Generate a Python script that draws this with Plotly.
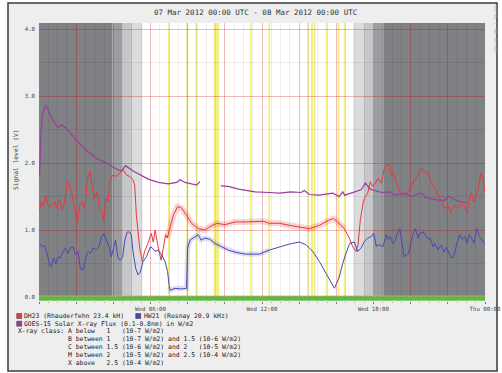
import plotly.graph_objects as go

# ---------------- data (hours since 07 Mar 2012 00:00 UTC, volts) ----------------
red_h = [0.03, 0.12, 0.24, 0.36, 0.48, 0.66, 0.84, 0.97, 1.11, 1.25, 1.38, 1.51, 1.65, 1.79, 1.92,
         2.05, 2.19, 2.33, 2.45, 2.64, 2.76, 2.87, 2.99, 3.12, 3.26, 3.41, 3.48, 3.59, 3.71, 3.84,
         3.98, 4.16, 4.34, 4.52, 4.70, 4.88, 5.06, 5.15, 5.24, 5.33, 5.42, 5.56, 5.68, 5.86, 6.04,
         6.15, 6.25, 6.42, 6.57, 6.69, 6.81, 6.90, 7.05, 7.23, 7.46, 7.67, 7.94, 8.21, 8.57, 8.93,
         9.20, 9.56, 10.01, 10.55, 11.09, 11.63, 12.07, 12.39, 12.93, 13.47, 14.01, 14.55, 15.09,
         15.62, 15.85, 16.07, 16.43, 16.70, 16.88, 17.06, 17.17, 17.29, 17.45, 17.56, 17.69, 17.83,
         17.95, 18.10, 18.24, 18.42, 18.60, 18.78, 18.87, 18.96, 19.08, 19.23, 19.41, 19.59, 19.77,
         19.95, 20.13, 20.40, 20.61, 20.79, 20.90, 21.11, 21.29, 21.48, 21.65, 21.83, 22.01, 22.15,
         22.25, 22.38, 22.50, 22.73, 22.91, 23.05, 23.12, 23.27, 23.42, 23.60, 23.78, 23.90, 23.99]
red_v = [1.30, 1.42, 1.35, 1.52, 1.37, 1.35, 1.42, 1.32, 1.45, 1.30, 1.42, 1.72, 1.65, 1.52, 1.32,
         1.10, 1.37, 1.42, 1.32, 1.80, 1.87, 1.62, 1.47, 1.57, 1.32, 1.25, 1.12, 1.47, 1.42, 1.77,
         1.82, 1.80, 1.85, 1.90, 1.82, 1.80, 1.75, 1.67, 1.22, 0.93, 0.73, 0.53, 0.68, 0.80, 0.95,
         0.82, 1.00, 0.73, 0.55, 0.73, 0.93, 0.88, 1.02, 1.22, 1.35, 1.33, 1.22, 1.10, 1.02, 1.00,
         1.05, 1.10, 1.08, 1.12, 1.12, 1.12, 1.13, 1.10, 1.10, 1.07, 1.05, 1.02, 1.07,
         1.15, 1.17, 1.12, 1.02, 0.88, 0.75, 0.68, 0.78, 1.15, 1.42, 1.50, 1.55, 1.72,
         1.65, 1.70, 1.77, 1.70, 1.94, 1.97, 2.00, 1.82, 1.84, 1.72, 1.57, 1.50, 1.52,
         1.62, 1.70, 1.82, 1.92, 1.85, 1.87, 1.72, 1.62, 1.52, 1.42, 1.32, 1.37, 1.25,
         1.32, 1.37, 1.32, 1.40, 1.35, 1.25, 1.42, 1.55, 1.42, 1.57, 1.85, 1.75, 1.57]

blue_h = [0.03, 0.18, 0.30, 0.43, 0.57, 0.66, 0.79, 0.90, 1.02, 1.15, 1.29, 1.43, 1.56, 1.68, 1.83,
          1.97, 2.10, 2.22, 2.37, 2.51, 2.64, 2.77, 2.91, 3.09, 3.23, 3.35, 3.48, 3.62, 3.77, 3.89,
          4.02, 4.12, 4.25, 4.38, 4.50, 4.61, 4.74, 4.88, 4.97, 5.06, 5.20, 5.33, 5.45, 5.60, 5.78,
          5.88, 6.00, 6.10, 6.24, 6.42, 6.60, 6.78, 6.92, 7.01, 7.07, 7.32, 7.68, 7.94, 7.98, 8.00,
          8.13, 8.40, 8.57, 8.72, 8.93, 9.20, 9.47, 9.83, 10.19, 10.55, 11.09, 11.63, 11.86, 12.39,
          12.93, 13.47, 14.01, 14.37, 14.73, 15.09, 15.45, 15.72, 15.90, 16.16, 16.34, 16.52, 16.72,
          16.97, 17.15, 17.33, 17.51, 17.69, 17.87, 18.01, 18.15, 18.30, 18.51, 18.69, 18.80, 18.90,
          19.05, 19.15, 19.28, 19.41, 19.54, 19.65, 19.77, 19.89, 20.00, 20.13, 20.25, 20.40, 20.50,
          20.67, 20.78, 20.94, 21.05, 21.20, 21.30, 21.47, 21.65, 21.80, 21.92, 22.05, 22.19, 22.30,
          22.38, 22.51, 22.65, 22.78, 22.92, 23.03, 23.15, 23.27, 23.41, 23.56, 23.70, 23.83, 23.96]
blue_v = [0.80, 0.75, 0.77, 0.65, 0.48, 0.45, 0.58, 0.50, 0.60, 0.58, 0.68, 0.73, 0.65, 0.73, 0.75,
          0.63, 0.68, 0.43, 0.40, 0.58, 0.68, 0.65, 0.73, 0.71, 0.75, 0.88, 0.95, 0.85, 0.75, 0.60,
          0.73, 0.85, 0.58, 0.55, 0.60, 0.83, 0.97, 0.97, 0.92, 0.68, 0.43, 0.33, 0.37, 0.53, 0.60,
          0.68, 0.75, 0.73, 0.68, 0.70, 0.63, 0.53, 0.38, 0.15, 0.10, 0.13, 0.12, 0.13, 0.50, 0.73,
          0.85, 0.90, 0.93, 0.85, 0.88, 0.86, 0.80, 0.75, 0.70, 0.67, 0.64, 0.64, 0.64, 0.70,
          0.75, 0.79, 0.82, 0.78, 0.68, 0.53, 0.35, 0.23, 0.13, 0.30, 0.50, 0.65, 0.80,
          0.82, 0.68, 0.73, 0.83, 0.88, 0.90, 0.95, 0.76, 0.78, 0.75, 0.93, 0.86, 0.90,
          0.80, 0.83, 0.95, 1.02, 0.75, 0.60, 0.63, 0.65, 0.80, 0.95, 1.02, 0.88, 0.95,
          0.97, 0.93, 0.86, 0.88, 0.75, 0.80, 0.71, 0.77, 0.67, 0.74, 0.65, 0.58, 0.60,
          0.67, 0.83, 0.93, 0.86, 0.90, 0.80, 0.93, 0.88, 0.80, 1.02, 0.90, 0.86, 0.80]

goes_h = [0.03, 0.10, 0.18, 0.36, 0.55, 0.75, 1.02, 1.20, 1.47, 2.00, 2.55, 3.08, 3.62, 4.16, 4.43,
          4.66, 5.06, 5.60, 5.88, 6.42, 6.96, 7.41, 7.59, 7.86, 8.21, 8.48, 8.66, 9.20,
          9.78, 10.19, 10.73, 11.26, 11.63, 12.39, 12.93, 13.56, 14.10, 14.28, 14.55, 15.09, 15.62,
          15.80, 16.16, 16.34, 16.45, 16.88, 17.33, 17.56, 17.83, 18.05, 18.43, 18.88, 19.15, 19.68,
          20.04, 20.54, 20.85, 21.47, 21.80, 22.04, 22.55, 22.99]
goes_v = [1.80, 2.42, 2.72, 2.87, 2.75, 2.64, 2.53, 2.57, 2.52, 2.34, 2.19, 2.07, 2.00, 1.91, 1.88,
          1.96, 1.88, 1.80, 1.76, 1.71, 1.69, 1.71, 1.75, 1.71, 1.69, 1.67, 1.72, None,
          1.66, 1.65, 1.61, 1.59, 1.57, 1.56, 1.55, 1.57, 1.56, 1.59, 1.53, 1.52, 1.55,
          1.55, 1.50, 1.57, 1.52, 1.56, 1.60, 1.70, 1.61, 1.59, 1.56, 1.57, 1.52, 1.55,
          1.50, 1.55, 1.48, 1.45, 1.44, 1.50, 1.43, 1.41]

# day / twilight / night shading (hours) and colours
shade_start = [0.0, 3.96, 4.48, 5.04, 16.92, 17.46, 18.00, 18.53]
shade_end = [3.96, 4.48, 5.04, 5.56, 17.46, 18.00, 18.53, 24.0]
shade_color = ['#808185', '#9c9da0', '#c6c7c9', '#dbdcde', '#dbdcde', '#c6c7c9', '#9c9da0', '#808185']

# X-ray event markers (hours)
flare_start = [6.94, 7.93, 8.43, 9.40, 11.35, 12.34, 14.42, 14.64, 14.78, 15.42, 16.07, 16.40]
flare_end = [7.04, 8.03, 8.53, 9.70, 11.45, 12.44, 14.52, 14.74, 14.88, 15.52, 16.17, 16.50]

x_tickvals = [0, 2, 4, 6, 8, 10, 12, 14, 16, 18, 20, 22, 24]
x_ticktext = ["", "", "", "Wed 06:00", "", "", "Wed 12:00", "", "", "Wed 18:00", "", "", "Thu 00:00"]
y_tickvals = [0, 1, 2, 3, 4]
y_ticktext = ["0.0", "1.0", "2.0", "3.0", "4.0"]

title_text = "07 Mar 2012 00:00 UTC - 08 Mar 2012 00:00 UTC"
legend_lines = [
    "X-ray class: A below   1   (10-7 W/m2)",
    "             B between 1   (10-7 W/m2) and 1.5 (10-6 W/m2)",
    "             C between 1.5 (10-6 W/m2) and 2   (10-5 W/m2)",
    "             M between 2   (10-5 W/m2) and 2.5 (10-4 W/m2)",
    "             X above   2.5 (10-4 W/m2)",
]

# ---------------- layout geometry ----------------
W, H = 502, 373
L, R, T, B = 39, 17, 23, 72
PW, PH = W - L - R, H - T - B
Y0 = -4 / 67.0
Y1 = Y0 + PH / 67.0
MONO = "DejaVu Sans Mono"


def px(x):
    return (x - L) / PW


def py(y):
    return (H - B - y) / PH


fig = go.Figure()

RED, BLUE, PURPLE = "#e8383c", "#4848b4", "#9a3c9e"

# halos (day-time min/max spread)
rh = [h for h in red_h if 6.9 <= h <= 16.6]
rv = [v for h, v in zip(red_h, red_v) if 6.9 <= h <= 16.6]
fig.add_trace(go.Scatter(x=rh, y=rv, mode="lines", line=dict(color="rgba(240,60,60,0.22)", width=6),
                         hoverinfo="skip", showlegend=False))
bh = [h for h in blue_h if 6.95 <= h <= 12.5]
bv = [v for h, v in zip(blue_h, blue_v) if 6.95 <= h <= 12.5]
fig.add_trace(go.Scatter(x=bh, y=bv, mode="lines", line=dict(color="rgba(80,80,200,0.18)", width=5),
                         hoverinfo="skip", showlegend=False))

fig.add_trace(go.Scatter(x=red_h, y=red_v, mode="lines", name="DH23",
                         line=dict(color=RED, width=1), showlegend=False))
fig.add_trace(go.Scatter(x=blue_h, y=blue_v, mode="lines", name="HW21",
                         line=dict(color=BLUE, width=1), showlegend=False))
fig.add_trace(go.Scatter(x=goes_h, y=goes_v, mode="lines", name="GOES-15",
                         line=dict(color=PURPLE, width=1.2), connectgaps=False, showlegend=False))

shapes = []
# outer frame
shapes.append(dict(type="rect", xref="paper", yref="paper", layer="below",
                   x0=px(8), x1=px(497), y0=py(371), y1=py(3),
                   fillcolor="#eeeeee", line=dict(color="#3a3a3a", width=1.5)))
# white plot area
shapes.append(dict(type="rect", xref="x", yref="y", layer="below", x0=0, x1=24, y0=Y0, y1=Y1,
                   fillcolor="white", line=dict(width=0)))
for s, e, c in zip(shade_start, shade_end, shade_color):
    shapes.append(dict(type="rect", xref="x", yref="y", layer="below", x0=s, x1=e, y0=0.015, y1=Y1,
                       fillcolor=c, line=dict(width=0)))
for s, e in zip(flare_start, flare_end):
    shapes.append(dict(type="rect", xref="x", yref="y", layer="below", x0=s, x1=e, y0=0.015, y1=Y1,
                       fillcolor="#f3ee86", line=dict(width=0)))
# green class bar
shapes.append(dict(type="rect", xref="x", yref="y", layer="above", x0=0, x1=24, y0=-0.055, y1=0.015,
                   fillcolor="#5cb848", line=dict(width=0)))
shapes.append(dict(type="line", xref="x", yref="y", layer="above", x0=0, x1=24, y0=0.015, y1=0.015,
                   line=dict(color="#d8a860", width=0.8)))

# legend boxes
for (x0, yc, col) in [(16.7, 316, RED), (135.7, 316, BLUE), (16.7, 323.7, PURPLE)]:
    shapes.append(dict(type="rect", xref="paper", yref="paper", layer="above",
                       x0=px(x0), x1=px(x0 + 5), y0=py(yc + 2.5), y1=py(yc - 2.5),
                       fillcolor=col, line=dict(color="#333", width=0.5)))

annotations = []
annotations.append(dict(text=title_text, xref="paper", yref="paper", x=px(255), y=py(12),
                        showarrow=False, xanchor="center", yanchor="middle",
                        font=dict(family=MONO, size=7.5, color="#333")))
annotations.append(dict(text="Signal level (V)", xref="paper", yref="paper", x=px(16), y=py(160),
                        showarrow=False, textangle=-90, xanchor="center", yanchor="middle",
                        font=dict(family=MONO, size=6.3, color="#444")))
annotations.append(dict(text="RRDTOOL / TOBI OETIKER", xref="paper", yref="paper", x=px(495), y=py(29),
                        showarrow=False, textangle=90, xanchor="center", yanchor="middle",
                        font=dict(family=MONO, size=3.6, color="#b0b0b0")))


def leg(text, x, y):
    annotations.append(dict(text=text.replace(" ", "\u00a0"), xref="paper", yref="paper",
                            x=px(x - 1), y=py(y), showarrow=False, xanchor="left", yanchor="middle",
                            font=dict(family=MONO, size=6.4, color="#222")))


leg("DH23 (Rhauderfehn 23.4 kH)", 23.3, 316)
leg("HW21 (Rosnay 20.9 kHz)", 142.7, 316)
leg("GOES-15 Solar X-ray Flux (0.1-0.8nm) in W/m2", 23.3, 323.7)
for i, line in enumerate(legend_lines):
    leg(line, 16.7, 331.3 + i * 7.85)

fig.update_layout(
    width=W, height=H,
    margin=dict(l=L, r=R, t=T, b=B, pad=0),
    paper_bgcolor="white", plot_bgcolor="white",
    shapes=shapes, annotations=annotations,
    showlegend=False,
    xaxis=dict(range=[0, 24], tickmode="array", tickvals=x_tickvals, ticktext=x_ticktext,
               showgrid=True, gridcolor="rgba(255,0,0,0.22)", gridwidth=1,
               ticks="outside", ticklen=2, tickcolor="#777", zeroline=False, showline=False,
               automargin=False,
               tickfont=dict(family=MONO, size=5.7, color="#444"),
               minor=dict(tickmode="linear", tick0=0, dtick=0.5, showgrid=True,
                          gridcolor="rgba(0,0,0,0.07)", ticks="outside", ticklen=1, tickcolor="#999")),
    yaxis=dict(range=[Y0, Y1], tickmode="array", tickvals=y_tickvals, ticktext=y_ticktext,
               showgrid=True, gridcolor="rgba(255,0,0,0.22)", gridwidth=1,
               ticks="", zeroline=False, showline=False, automargin=False,
               ticklabelstandoff=3,
               tickfont=dict(family=MONO, size=5.7, color="#444"),
               minor=dict(tickmode="linear", tick0=0, dtick=0.5, showgrid=True,
                          gridcolor="rgba(0,0,0,0.07)")),
)

fig.write_html("out.html", config={"displayModeBar": False},
               post_script="document.body.style.margin='0';document.body.style.overflow='hidden';")
